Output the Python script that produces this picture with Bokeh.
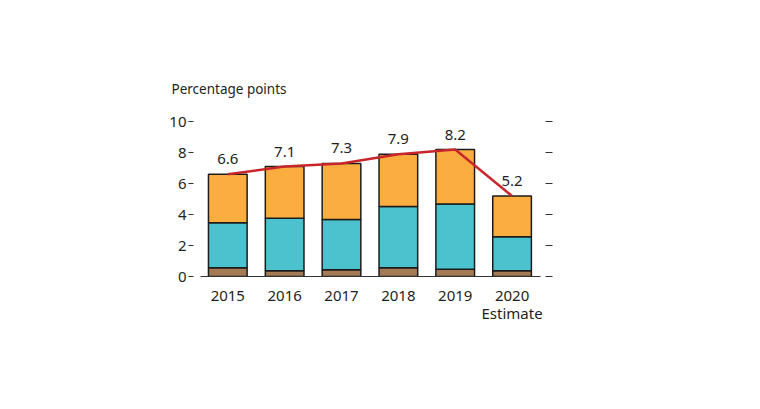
from bokeh.plotting import figure
from bokeh.models import ColumnDataSource, Range1d, FixedTicker, LinearAxis
from bokeh.core.properties import value
from bokeh.embed import file_html
from bokeh.resources import INLINE

years = ["2015", "2016", "2017", "2018", "2019", "2020"]
notes = ["", "", "", "", "", "Estimate"]
brown = [0.56, 0.37, 0.43, 0.56, 0.47, 0.37]
teal_top = [3.48, 3.76, 3.68, 4.52, 4.69, 2.56]
totals = [6.6, 7.1, 7.3, 7.9, 8.2, 5.2]
total_labels = ["6.6", "7.1", "7.3", "7.9", "8.2", "5.2"]
y_ticks = [0, 2, 4, 6, 8, 10]

xs = list(range(len(years)))
teal = [t - b for t, b in zip(teal_top, brown)]
orange = [tot - t for tot, t in zip(totals, teal_top)]

src = ColumnDataSource(dict(x=xs, brown=brown, teal=teal, orange=orange,
                            total=totals, lab=total_labels))

FONT = "Noto Sans"
TXT = "#231f20"

p = figure(width=744, height=388, output_backend="svg", toolbar_location=None,
           x_range=Range1d(-0.48, 5.5), y_range=Range1d(0, 10.4),
           min_border_left=200, min_border_right=204, min_border_top=115,
           min_border_bottom=112, title="Percentage points")

p.vbar_stack(["brown", "teal", "orange"], x="x", width=0.68, source=src,
             color=["#a57b56", "#4cc2ce", "#fbae3f"],
             line_color="#1c1c1c", line_width=1.5)

p.line("x", "total", source=src, line_color="#c8262c", line_width=2.5)
p.text("x", "total", text="lab", source=src, text_align="center",
       text_baseline="bottom", y_offset=-10, text_font=value(FONT),
       text_font_size="15px", text_color=TXT)

p.title.text_font = FONT
p.title.text_font_size = "13.5px"
p.title.text_font_style = "normal"
p.title.text_color = TXT
p.title.align = "left"
p.title.offset = -29
p.title.standoff = 35

p.grid.visible = False
p.outline_line_color = None
p.background_fill_color = "white"
p.border_fill_color = "white"

# x axis
xa = p.xaxis[0]
xa.ticker = FixedTicker(ticks=xs)
xa.major_label_overrides = {i: y for i, y in enumerate(years)}
xa.major_tick_line_color = None
xa.minor_tick_line_color = None
xa.axis_line_color = "#333333"
xa.axis_line_width = 1.2
xa.major_label_text_font = FONT
xa.major_label_text_font_size = "15px"
xa.major_label_text_color = TXT
xa.major_label_standoff = 8

# second row of x labels
xb = LinearAxis(ticker=FixedTicker(ticks=[i for i, n in enumerate(notes) if n]))
xb.major_label_overrides = {i: n for i, n in enumerate(notes) if n}
xb.axis_line_color = None
xb.major_tick_line_color = None
xb.minor_tick_line_color = None
xb.major_label_text_font = FONT
xb.major_label_text_font_size = "15px"
xb.major_label_text_color = TXT
xb.major_label_standoff = -7
p.add_layout(xb, "below")

# left axis
ya = p.yaxis[0]
ya.ticker = FixedTicker(ticks=y_ticks)
ya.axis_line_color = None
ya.major_tick_in = -7
ya.major_tick_out = 12
ya.major_tick_line_color = "#333333"
ya.major_tick_line_width = 1.2
ya.minor_tick_line_color = None
ya.major_label_text_font = FONT
ya.major_label_text_font_size = "15px"
ya.major_label_text_color = TXT
ya.major_label_standoff = 2

# right axis (ticks only)
ra = LinearAxis(ticker=FixedTicker(ticks=y_ticks))
ra.axis_line_color = None
ra.major_tick_in = -5
ra.major_tick_out = 12
ra.major_tick_line_color = "#333333"
ra.major_tick_line_width = 1.2
ra.minor_tick_line_color = None
ra.major_label_text_font_size = "0px"
ra.major_label_text_color = None
p.add_layout(ra, "right")

open("out.html", "w").write(file_html(p, INLINE))
